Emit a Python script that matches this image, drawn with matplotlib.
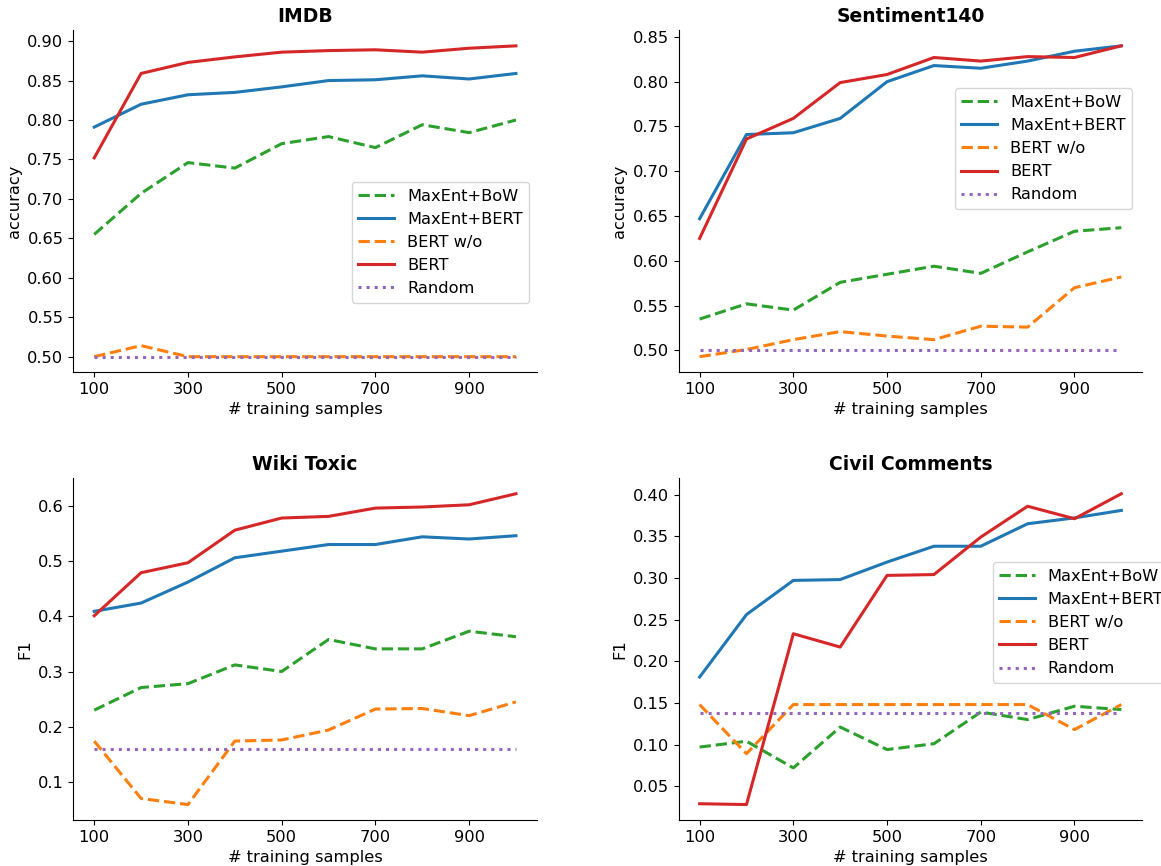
import matplotlib
matplotlib.use("Agg")
import matplotlib.pyplot as plt

plt.rcParams["font.size"] = 11.7

samples = [100, 200, 300, 400, 500, 600, 700, 800, 900, 1000]

# IMDB (accuracy)
imdb_bow = [0.655, 0.707, 0.746, 0.739, 0.770, 0.779, 0.765, 0.794, 0.784, 0.800]
imdb_mebert = [0.791, 0.820, 0.832, 0.835, 0.842, 0.850, 0.851, 0.856, 0.852, 0.859]
imdb_bert_wo = [0.500, 0.514, 0.500, 0.500, 0.500, 0.500, 0.500, 0.500, 0.500, 0.500]
imdb_bert = [0.752, 0.859, 0.873, 0.880, 0.886, 0.888, 0.889, 0.886, 0.891, 0.894]
imdb_random = [0.5] * 10

# Sentiment140 (accuracy)
s140_bow = [0.535, 0.552, 0.545, 0.576, 0.585, 0.594, 0.586, 0.610, 0.633, 0.637]
s140_mebert = [0.647, 0.741, 0.743, 0.759, 0.800, 0.818, 0.815, 0.823, 0.834, 0.840]
s140_bert_wo = [0.493, 0.501, 0.512, 0.521, 0.516, 0.512, 0.527, 0.526, 0.570, 0.582]
s140_bert = [0.625, 0.736, 0.759, 0.799, 0.808, 0.827, 0.823, 0.828, 0.827, 0.840]
s140_random = [0.5] * 10

# Wiki Toxic (F1)
wiki_bow = [0.230, 0.271, 0.278, 0.312, 0.300, 0.358, 0.341, 0.341, 0.373, 0.363]
wiki_mebert = [0.409, 0.424, 0.462, 0.506, 0.518, 0.530, 0.530, 0.544, 0.540, 0.546]
wiki_bert_wo = [0.174, 0.070, 0.059, 0.174, 0.176, 0.194, 0.232, 0.233, 0.220, 0.245]
wiki_bert = [0.401, 0.479, 0.497, 0.556, 0.578, 0.581, 0.596, 0.598, 0.602, 0.622]
wiki_random = [0.160] * 10

# Civil Comments (F1)
civil_bow = [0.097, 0.104, 0.072, 0.121, 0.094, 0.101, 0.139, 0.130, 0.146, 0.142]
civil_mebert = [0.181, 0.256, 0.297, 0.298, 0.319, 0.338, 0.338, 0.365, 0.372, 0.381]
civil_bert_wo = [0.148, 0.089, 0.148, 0.148, 0.148, 0.148, 0.148, 0.148, 0.118, 0.148]
civil_bert = [0.029, 0.028, 0.233, 0.217, 0.303, 0.304, 0.349, 0.386, 0.371, 0.401]
civil_random = [0.138] * 10

labels = ["MaxEnt+BoW", "MaxEnt+BERT", "BERT w/o", "BERT", "Random"]
colors = ["tab:green", "tab:blue", "tab:orange", "tab:red", "tab:purple"]
styles = ["--", "-", "--", "-", ":"]

panels = [
    ("IMDB", "accuracy", [imdb_bow, imdb_mebert, imdb_bert_wo, imdb_bert, imdb_random],
     dict(loc="upper right", bbox_to_anchor=(0.983, 0.556))),
    ("Sentiment140", "accuracy", [s140_bow, s140_mebert, s140_bert_wo, s140_bert, s140_random],
     dict(loc="upper right", bbox_to_anchor=(0.978, 0.830))),
    ("Wiki Toxic", "F1", [wiki_bow, wiki_mebert, wiki_bert_wo, wiki_bert, wiki_random], None),
    ("Civil Comments", "F1", [civil_bow, civil_mebert, civil_bert_wo, civil_bert, civil_random],
     dict(loc="upper left", bbox_to_anchor=(0.677, 0.754))),
]

fig, axes = plt.subplots(2, 2, figsize=(11.61, 8.66), dpi=100)
fig.subplots_adjust(left=0.063, right=0.984, bottom=0.053, top=0.965,
                    wspace=0.305, hspace=0.31)

for ax, (title, ylab, series, leg) in zip(axes.flat, panels):
    for ys, lab, c, ls in zip(series, labels, colors, styles):
        ax.plot(samples, ys, ls=ls, color=c, lw=2.2, label=lab)
    ax.set_title(title, fontweight="bold", fontsize=13.5)
    ax.set_ylabel(ylab)
    ax.set_xlabel("# training samples")
    ax.set_xticks([100, 300, 500, 700, 900])
    ax.spines["top"].set_visible(False)
    ax.spines["right"].set_visible(False)
    if leg is not None:
        ax.legend(borderaxespad=0, handlelength=2.2, **leg)

fig.savefig("out.png", dpi=100)
